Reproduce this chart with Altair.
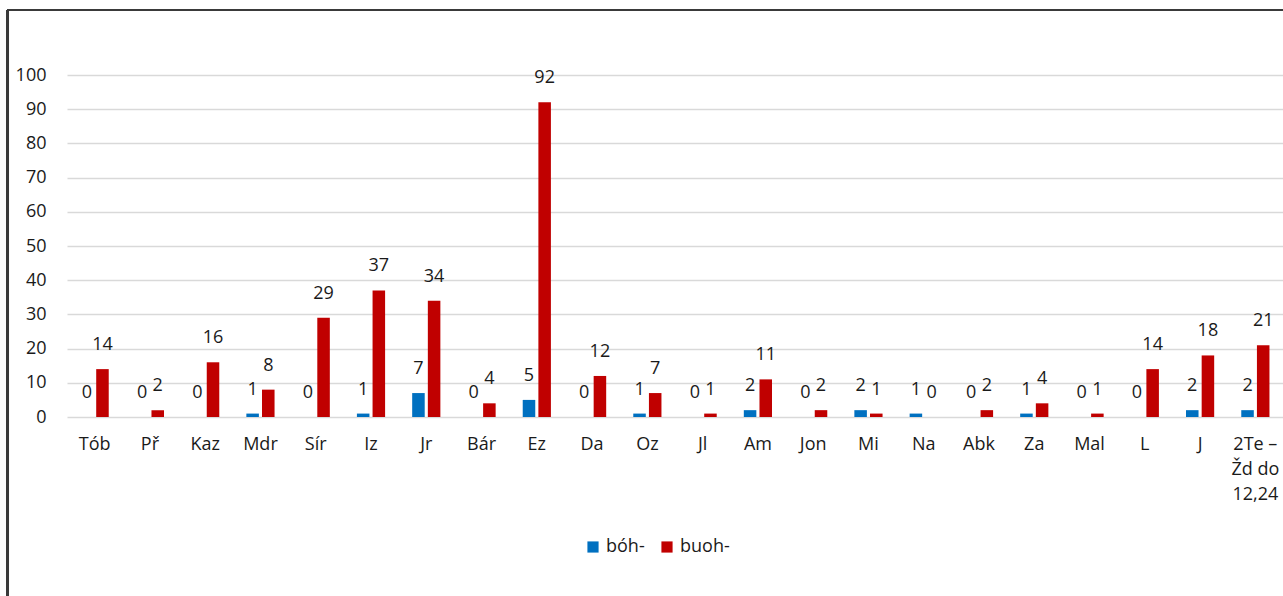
import altair as alt
import pandas as pd

# Counts per book for the two spellings
categories = ["Tób", "Př", "Kaz", "Mdr", "Sír", "Iz", "Jr", "Bár", "Ez", "Da", "Oz",
              "Jl", "Am", "Jon", "Mi", "Na", "Abk", "Za", "Mal", "L", "J",
              "2Te – Žd do 12,24"]
boh = [0, 0, 0, 1, 0, 1, 7, 0, 5, 0, 1, 0, 2, 0, 2, 1, 0, 1, 0, 0, 2, 2]
buoh = [14, 2, 16, 8, 29, 37, 34, 4, 92, 12, 7, 1, 11, 2, 1, 0, 2, 4, 1, 14, 18, 21]
series = ["bóh-", "buoh-"]
colors = ["#0070C0", "#C00000"]

rows = []
for i, c in enumerate(categories):
    rows.append({"kniha": c, "tvar": series[0], "počet": boh[i]})
    rows.append({"kniha": c, "tvar": series[1], "počet": buoh[i]})
df = pd.DataFrame(rows)

FONT = "Open Sans"
TXT = "#1a1a1a"
W, H = 1216, 342
PAD_L, PAD_T = 67, 75

x = alt.X(
    "kniha:N", sort=categories, title=None,
    scale=alt.Scale(paddingInner=0.49, paddingOuter=0.245),
    axis=alt.Axis(
        labelAngle=0, domain=False, ticks=False, labelPadding=27,
        labelFont=FONT, labelFontSize=18, labelColor=TXT,
        labelLineHeight=25, labelBaseline="middle",
        labelExpr="split(datum.label, ' – ').length > 1 ? ['2Te –', 'Žd do', '12,24'] : datum.label",
    ),
)
xo = alt.XOffset("tvar:N", sort=series,
                 scale=alt.Scale(domain=series, paddingInner=0.2, paddingOuter=0))
y = alt.Y(
    "počet:Q", title=None,
    scale=alt.Scale(domain=[0, 100], nice=False),
    axis=alt.Axis(
        values=list(range(0, 101, 10)), domain=False, ticks=False,
        labelPadding=21, labelFont=FONT, labelFontSize=18, labelColor=TXT,
        grid=True, gridColor="#d9d9d9", gridWidth=1.5,
    ),
)
color = alt.Color(
    "tvar:N", sort=series, title=None,
    scale=alt.Scale(domain=series, range=colors),
    legend=alt.Legend(
        orient="none", direction="horizontal", legendX=517, legendY=463,
        symbolType="square", symbolSize=125, symbolStrokeWidth=0,
        labelFont=FONT, labelFontSize=18, labelColor=TXT, labelOffset=4,
        columnPadding=13, padding=0,
    ),
)

base = alt.Chart(df).encode(x=x, xOffset=xo, y=y)
bars = base.mark_bar().encode(color=color)
labels = base.mark_text(
    font=FONT, fontSize=18, color=TXT, baseline="middle", dy=-24
).encode(text="počet:Q")

# Outer frame of the chart area (left and top edges)
frame_left = alt.Chart(df).mark_rule(color="#3a3a3a", strokeWidth=2).encode(
    x=alt.value(7.5 - PAD_L), y=alt.value(10 - PAD_T), y2=alt.value(600 - PAD_T)
)
frame_top = alt.Chart(df).mark_rule(color="#3a3a3a", strokeWidth=2).encode(
    x=alt.value(7.5 - PAD_L), x2=alt.value(W + 10), y=alt.value(10 - PAD_T)
)

chart = (
    alt.layer(bars, labels, frame_left, frame_top)
    .properties(
        width=W, height=H,
        autosize=alt.AutoSizeParams(type="none"),
        padding={"left": PAD_L, "top": PAD_T, "right": 0, "bottom": 596 - PAD_T - H},
        background="white",
    )
    .configure_view(stroke=None)
)

chart.save("out.html", embed_options={"renderer": "svg", "actions": False})
